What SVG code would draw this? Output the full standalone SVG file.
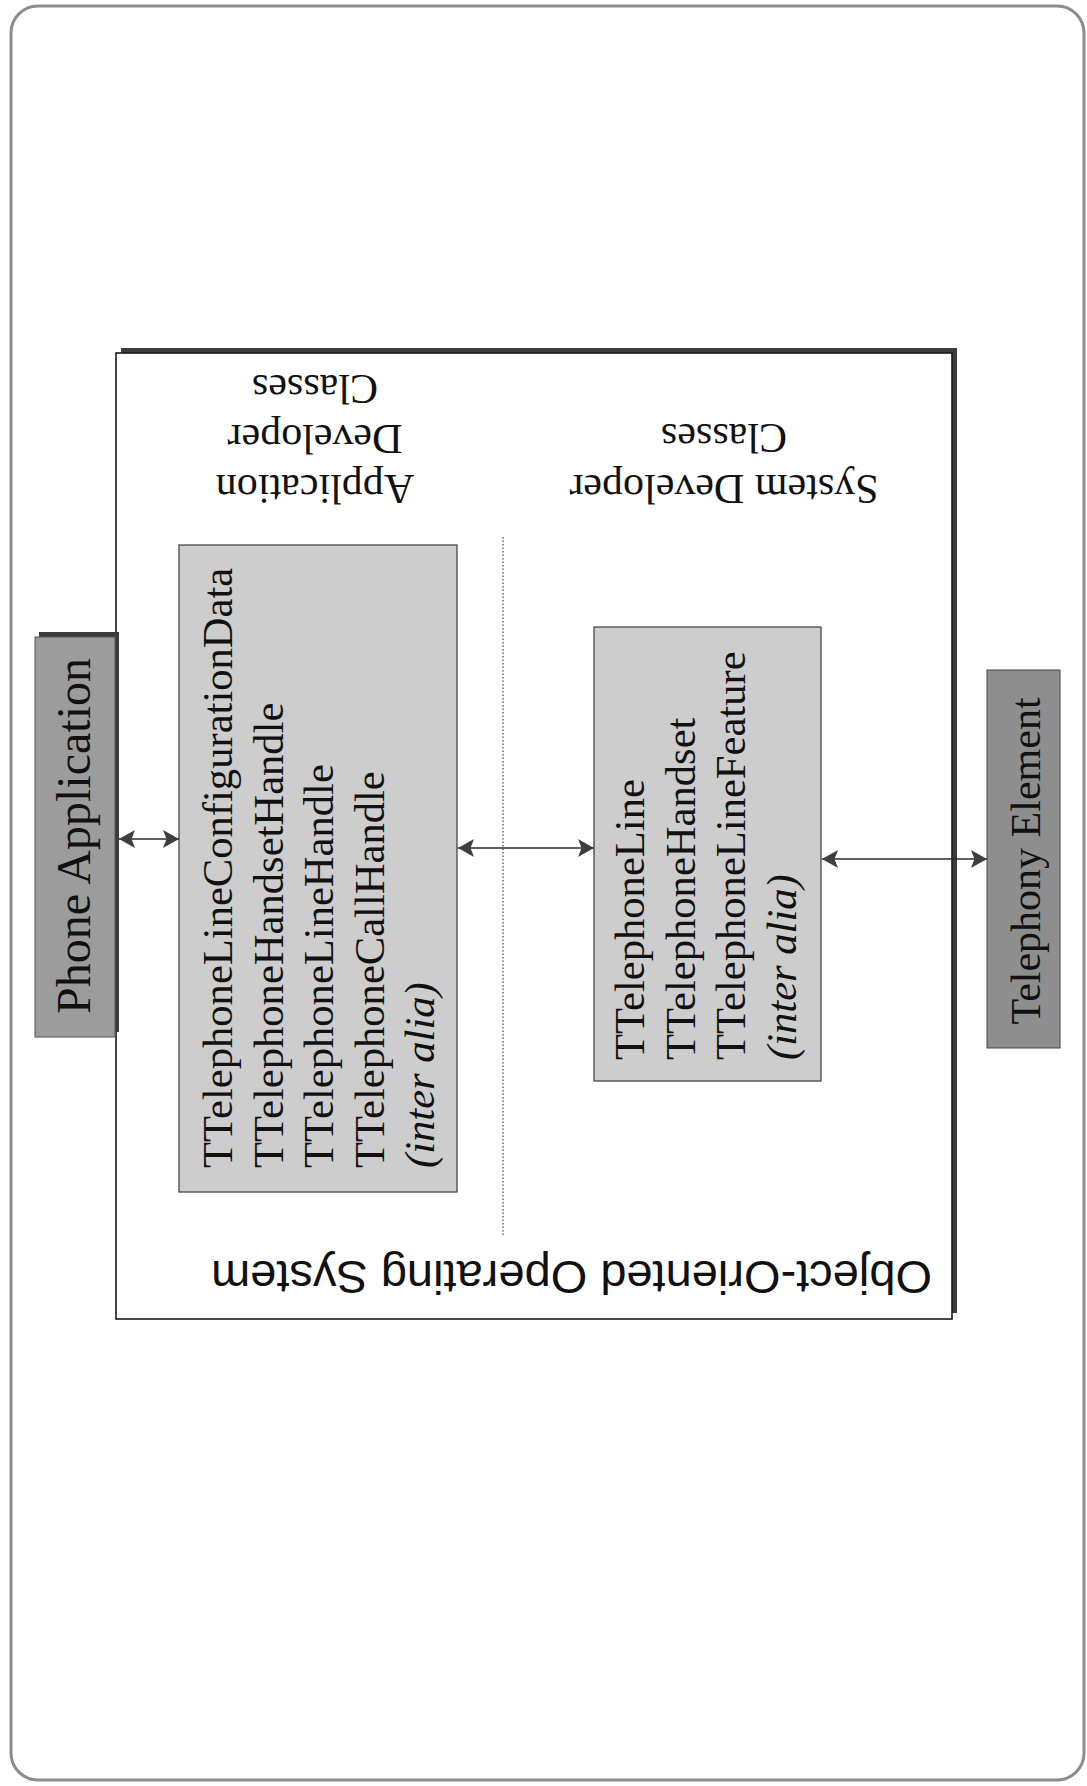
<svg xmlns="http://www.w3.org/2000/svg" width="1087" height="1786" viewBox="0 0 1087 1786">
<defs>
<style>
.serif{font-family:"Liberation Serif","Times New Roman",serif;font-size:42px;fill:#111}
.cls-text{font-size:42.6px}
.sans{font-family:"Liberation Sans",Arial,sans-serif;font-size:47px;fill:#111}
.cls{fill:#cdcdcd;stroke:#3a3a3a;stroke-width:1.2}
.shadow{fill:#3c3c3c}
.conn{stroke:#2a2a2a;stroke-width:1.6;fill:none}
</style>
<marker id="arr" viewBox="0 0 16 18" refX="16" refY="9" markerWidth="16" markerHeight="18" markerUnits="userSpaceOnUse" orient="auto-start-reverse">
<path d="M0,0 L16,9 L0,18 L3.5,9 Z" fill="#3e3e3e"/>
</marker>
</defs>
<rect width="1087" height="1786" fill="#ffffff"/>
<rect x="11" y="6" width="1073" height="1774" rx="27" ry="27" fill="none" stroke="#8c8c8c" stroke-width="3"/>

<g id="os-system">
<rect class="shadow" x="121" y="348" width="836" height="965"/>
<rect x="116" y="353" width="836" height="966" fill="#ffffff" stroke="#1a1a1a" stroke-width="1.6"/>
<text class="sans" transform="rotate(180)" x="-932" y="-1261">Object-Oriented Operating System</text>
<text class="serif" transform="rotate(180)" text-anchor="middle" x="-315" y="-475">Application<tspan x="-315" dy="50">Developer</tspan><tspan x="-315" dy="50">Classes</tspan></text>
<text class="serif" transform="rotate(180)" text-anchor="middle" x="-724" y="-475">System Developer<tspan x="-724" dy="51">Classes</tspan></text>
<line x1="503" y1="537" x2="503" y2="1235" stroke="#444" stroke-width="1.2" stroke-dasharray="1.5 2"/>
</g>

<g id="phone-application">
<rect class="shadow" x="39" y="632" width="80" height="400"/>
<rect x="35" y="637" width="80" height="400" fill="#9c9c9c" stroke="#555" stroke-width="1"/>
<text class="serif" transform="rotate(-90)" text-anchor="middle" x="-836" y="90" style="font-size:48px">Phone Application</text>
</g>

<g id="application-classes">
<rect class="cls" x="179" y="545" width="278" height="647"/>
<text class="serif cls-text" transform="rotate(-90)" x="-1168" y="232">TTelephoneLineConfigurationData<tspan x="-1168" y="283">TTelephoneHandsetHandle</tspan><tspan x="-1168" y="333">TTelephoneLineHandle</tspan><tspan x="-1168" y="384">TTelephoneCallHandle</tspan><tspan x="-1168" y="434" font-style="italic">(inter alia)</tspan></text>
</g>

<g id="system-classes">
<rect class="cls" x="594" y="627" width="227" height="454"/>
<text class="serif cls-text" transform="rotate(-90)" x="-1060" y="644">TTelephoneLine<tspan x="-1060" y="695">TTelephoneHandset</tspan><tspan x="-1060" y="745">TTelephoneLineFeature</tspan><tspan x="-1060" y="796" font-style="italic">(inter alia)</tspan></text>
</g>

<g id="telephony-element">
<rect x="987" y="670" width="73" height="378" fill="#8e8e8e" stroke="#444" stroke-width="1"/>
<text class="serif" transform="rotate(-90)" text-anchor="middle" x="-861" y="1040">Telephony Element</text>
</g>

<g id="connectors">
<line class="conn" x1="119" y1="839" x2="179" y2="839" marker-start="url(#arr)" marker-end="url(#arr)"/>
<line class="conn" x1="458" y1="848" x2="594" y2="848" marker-start="url(#arr)" marker-end="url(#arr)"/>
<line class="conn" x1="822" y1="859" x2="987" y2="859" marker-start="url(#arr)" marker-end="url(#arr)"/>
</g>
</svg>
